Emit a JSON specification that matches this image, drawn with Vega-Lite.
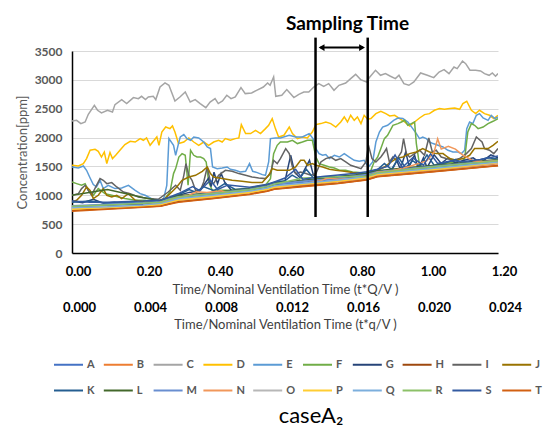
{
"$schema":"https://vega.github.io/schema/vega-lite/v6.json",
"width":426,"height":202,
"autosize":{"type":"none"},
"padding":{"left":72,"top":51,"right":51,"bottom":174},
"background":"white",
"config":{"view":{"stroke":null},"font":"Lato"},
"title":{"text":"caseA₂","orient":"bottom","anchor":"middle","frame":"group","dx":26,"offset":10,"font":"Lato","fontSize":22,"fontWeight":"normal","color":"#000000"},
"layer":[
{"layer":[
{"data":{"values":[
{"s":"A","x":0,"y":800},{"s":"A","x":0.1,"y":825},{"s":"A","x":0.2,"y":850},{"s":"A","x":0.25,"y":870},{"s":"A","x":0.27,"y":910},{"s":"A","x":0.3,"y":960},{"s":"A","x":0.4,"y":1020},{"s":"A","x":0.5,"y":1085},{"s":"A","x":0.55,"y":1140},{"s":"A","x":0.57,"y":1180},{"s":"A","x":0.65,"y":1225},{"s":"A","x":0.75,"y":1280},{"s":"A","x":0.83,"y":1340},{"s":"A","x":0.86,"y":1395},{"s":"A","x":0.95,"y":1445},{"s":"A","x":1.05,"y":1500},{"s":"A","x":1.2,"y":1590},
{"s":"B","x":0,"y":760},{"s":"B","x":0.1,"y":785},{"s":"B","x":0.2,"y":815},{"s":"B","x":0.25,"y":835},{"s":"B","x":0.27,"y":870},{"s":"B","x":0.3,"y":915},{"s":"B","x":0.4,"y":975},{"s":"B","x":0.5,"y":1045},{"s":"B","x":0.55,"y":1095},{"s":"B","x":0.57,"y":1135},{"s":"B","x":0.65,"y":1180},{"s":"B","x":0.75,"y":1235},{"s":"B","x":0.83,"y":1295},{"s":"B","x":0.86,"y":1350},{"s":"B","x":0.95,"y":1400},{"s":"B","x":1.05,"y":1455},{"s":"B","x":1.2,"y":1545},
{"s":"C","x":0,"y":2287},{"s":"C","x":0.013,"y":2299},{"s":"C","x":0.025,"y":2242},{"s":"C","x":0.037,"y":2270},{"s":"C","x":0.046,"y":2403},{"s":"C","x":0.063,"y":2559},{"s":"C","x":0.072,"y":2473},{"s":"C","x":0.083,"y":2426},{"s":"C","x":0.1,"y":2473},{"s":"C","x":0.114,"y":2443},{"s":"C","x":0.121,"y":2571},{"s":"C","x":0.14,"y":2658},{"s":"C","x":0.154,"y":2589},{"s":"C","x":0.173,"y":2693},{"s":"C","x":0.187,"y":2675},{"s":"C","x":0.196,"y":2715},{"s":"C","x":0.207,"y":2658},{"s":"C","x":0.215,"y":2703},{"s":"C","x":0.229,"y":2715},{"s":"C","x":0.236,"y":2658},{"s":"C","x":0.248,"y":2876},{"s":"C","x":0.262,"y":2946},{"s":"C","x":0.273,"y":2906},{"s":"C","x":0.29,"y":2634},{"s":"C","x":0.304,"y":2703},{"s":"C","x":0.319,"y":2790},{"s":"C","x":0.333,"y":2616},{"s":"C","x":0.347,"y":2658},{"s":"C","x":0.361,"y":2589},{"s":"C","x":0.377,"y":2519},{"s":"C","x":0.389,"y":2616},{"s":"C","x":0.403,"y":2675},{"s":"C","x":0.412,"y":2589},{"s":"C","x":0.424,"y":2634},{"s":"C","x":0.436,"y":2733},{"s":"C","x":0.448,"y":2675},{"s":"C","x":0.46,"y":2703},{"s":"C","x":0.476,"y":2866},{"s":"C","x":0.488,"y":2762},{"s":"C","x":0.506,"y":2772},{"s":"C","x":0.52,"y":2819},{"s":"C","x":0.539,"y":2876},{"s":"C","x":0.551,"y":2946},{"s":"C","x":0.558,"y":2906},{"s":"C","x":0.568,"y":3050},{"s":"C","x":0.574,"y":2715},{"s":"C","x":0.591,"y":2733},{"s":"C","x":0.605,"y":2831},{"s":"C","x":0.615,"y":2762},{"s":"C","x":0.625,"y":2693},{"s":"C","x":0.639,"y":2750},{"s":"C","x":0.653,"y":2790},{"s":"C","x":0.667,"y":2790},{"s":"C","x":0.681,"y":2876},{"s":"C","x":0.695,"y":2935},{"s":"C","x":0.709,"y":2888},{"s":"C","x":0.723,"y":2935},{"s":"C","x":0.738,"y":2819},{"s":"C","x":0.752,"y":2906},{"s":"C","x":0.771,"y":2946},{"s":"C","x":0.785,"y":3022},{"s":"C","x":0.799,"y":3096},{"s":"C","x":0.813,"y":3004},{"s":"C","x":0.83,"y":2963},{"s":"C","x":0.839,"y":3050},{"s":"C","x":0.855,"y":3166},{"s":"C","x":0.869,"y":3079},{"s":"C","x":0.883,"y":3108},{"s":"C","x":0.897,"y":3062},{"s":"C","x":0.911,"y":3022},{"s":"C","x":0.921,"y":3079},{"s":"C","x":0.935,"y":2935},{"s":"C","x":0.949,"y":2906},{"s":"C","x":0.963,"y":2963},{"s":"C","x":0.982,"y":3119},{"s":"C","x":1.001,"y":3079},{"s":"C","x":1.019,"y":3039},{"s":"C","x":1.034,"y":3136},{"s":"C","x":1.048,"y":3178},{"s":"C","x":1.062,"y":3108},{"s":"C","x":1.076,"y":3223},{"s":"C","x":1.085,"y":3195},{"s":"C","x":1.1,"y":3327},{"s":"C","x":1.109,"y":3281},{"s":"C","x":1.121,"y":3166},{"s":"C","x":1.137,"y":3166},{"s":"C","x":1.151,"y":3154},{"s":"C","x":1.162,"y":3108},{"s":"C","x":1.175,"y":3079},{"s":"C","x":1.184,"y":3119},{"s":"C","x":1.193,"y":3062},{"s":"C","x":1.2,"y":3108},
{"s":"D","x":0,"y":1520},{"s":"D","x":0.018,"y":1507},{"s":"D","x":0.032,"y":1549},{"s":"D","x":0.041,"y":1636},{"s":"D","x":0.051,"y":1780},{"s":"D","x":0.065,"y":1797},{"s":"D","x":0.074,"y":1762},{"s":"D","x":0.083,"y":1663},{"s":"D","x":0.091,"y":1750},{"s":"D","x":0.098,"y":1549},{"s":"D","x":0.107,"y":1740},{"s":"D","x":0.114,"y":1636},{"s":"D","x":0.123,"y":1693},{"s":"D","x":0.135,"y":1780},{"s":"D","x":0.149,"y":1878},{"s":"D","x":0.164,"y":1935},{"s":"D","x":0.178,"y":1923},{"s":"D","x":0.192,"y":1982},{"s":"D","x":0.201,"y":1953},{"s":"D","x":0.21,"y":1993},{"s":"D","x":0.22,"y":1866},{"s":"D","x":0.229,"y":1935},{"s":"D","x":0.239,"y":2010},{"s":"D","x":0.245,"y":1866},{"s":"D","x":0.253,"y":2097},{"s":"D","x":0.264,"y":2183},{"s":"D","x":0.276,"y":2155},{"s":"D","x":0.283,"y":2201},{"s":"D","x":0.29,"y":2097},{"s":"D","x":0.3,"y":1896},{"s":"D","x":0.315,"y":1923},{"s":"D","x":0.329,"y":1993},{"s":"D","x":0.343,"y":1923},{"s":"D","x":0.357,"y":1866},{"s":"D","x":0.371,"y":1923},{"s":"D","x":0.385,"y":1866},{"s":"D","x":0.399,"y":1923},{"s":"D","x":0.413,"y":1953},{"s":"D","x":0.423,"y":1923},{"s":"D","x":0.432,"y":1982},{"s":"D","x":0.446,"y":1953},{"s":"D","x":0.46,"y":1982},{"s":"D","x":0.47,"y":1993},{"s":"D","x":0.477,"y":2225},{"s":"D","x":0.489,"y":2069},{"s":"D","x":0.503,"y":2069},{"s":"D","x":0.517,"y":2126},{"s":"D","x":0.531,"y":2069},{"s":"D","x":0.545,"y":2155},{"s":"D","x":0.554,"y":2213},{"s":"D","x":0.564,"y":2329},{"s":"D","x":0.573,"y":2155},{"s":"D","x":0.582,"y":2010},{"s":"D","x":0.597,"y":2040},{"s":"D","x":0.612,"y":2183},{"s":"D","x":0.621,"y":2069},{"s":"D","x":0.635,"y":1982},{"s":"D","x":0.649,"y":2010},{"s":"D","x":0.663,"y":1993},{"s":"D","x":0.677,"y":2097},{"s":"D","x":0.687,"y":2225},{"s":"D","x":0.701,"y":2242},{"s":"D","x":0.715,"y":2270},{"s":"D","x":0.729,"y":2242},{"s":"D","x":0.743,"y":2183},{"s":"D","x":0.757,"y":2270},{"s":"D","x":0.767,"y":2357},{"s":"D","x":0.776,"y":2270},{"s":"D","x":0.785,"y":2386},{"s":"D","x":0.795,"y":2299},{"s":"D","x":0.804,"y":2357},{"s":"D","x":0.814,"y":2242},{"s":"D","x":0.823,"y":2386},{"s":"D","x":0.833,"y":2317},{"s":"D","x":0.842,"y":2329},{"s":"D","x":0.856,"y":2415},{"s":"D","x":0.87,"y":2455},{"s":"D","x":0.884,"y":2415},{"s":"D","x":0.895,"y":2374},{"s":"D","x":0.909,"y":2386},{"s":"D","x":0.923,"y":2329},{"s":"D","x":0.937,"y":2270},{"s":"D","x":0.951,"y":2201},{"s":"D","x":0.965,"y":2270},{"s":"D","x":0.979,"y":2339},{"s":"D","x":0.993,"y":2398},{"s":"D","x":1.007,"y":2415},{"s":"D","x":1.021,"y":2473},{"s":"D","x":1.035,"y":2502},{"s":"D","x":1.049,"y":2490},{"s":"D","x":1.064,"y":2502},{"s":"D","x":1.078,"y":2513},{"s":"D","x":1.092,"y":2490},{"s":"D","x":1.101,"y":2589},{"s":"D","x":1.112,"y":2629},{"s":"D","x":1.125,"y":2473},{"s":"D","x":1.137,"y":2415},{"s":"D","x":1.148,"y":2473},{"s":"D","x":1.162,"y":2415},{"s":"D","x":1.176,"y":2386},{"s":"D","x":1.188,"y":2329},{"s":"D","x":1.2,"y":2386},
{"s":"E","x":0,"y":1490},{"s":"E","x":0.018,"y":1473},{"s":"E","x":0.032,"y":1507},{"s":"E","x":0.041,"y":1433},{"s":"E","x":0.051,"y":1300},{"s":"E","x":0.06,"y":1185},{"s":"E","x":0.069,"y":1144},{"s":"E","x":0.079,"y":1260},{"s":"E","x":0.088,"y":1116},{"s":"E","x":0.102,"y":1173},{"s":"E","x":0.121,"y":1116},{"s":"E","x":0.14,"y":1126},{"s":"E","x":0.159,"y":1173},{"s":"E","x":0.178,"y":1086},{"s":"E","x":0.192,"y":1029},{"s":"E","x":0.206,"y":1000},{"s":"E","x":0.224,"y":943},{"s":"E","x":0.243,"y":896},{"s":"E","x":0.257,"y":913},{"s":"E","x":0.267,"y":1173},{"s":"E","x":0.273,"y":1982},{"s":"E","x":0.286,"y":1866},{"s":"E","x":0.292,"y":1693},{"s":"E","x":0.3,"y":1896},{"s":"E","x":0.305,"y":2010},{"s":"E","x":0.315,"y":2051},{"s":"E","x":0.324,"y":1982},{"s":"E","x":0.334,"y":1953},{"s":"E","x":0.343,"y":2010},{"s":"E","x":0.357,"y":1993},{"s":"E","x":0.371,"y":1923},{"s":"E","x":0.381,"y":1837},{"s":"E","x":0.39,"y":1809},{"s":"E","x":0.396,"y":1490},{"s":"E","x":0.409,"y":1462},{"s":"E","x":0.423,"y":1473},{"s":"E","x":0.437,"y":1490},{"s":"E","x":0.446,"y":1450},{"s":"E","x":0.46,"y":1433},{"s":"E","x":0.474,"y":1403},{"s":"E","x":0.489,"y":1416},{"s":"E","x":0.5,"y":1549},{"s":"E","x":0.509,"y":1416},{"s":"E","x":0.522,"y":1393},{"s":"E","x":0.536,"y":1358},{"s":"E","x":0.545,"y":1346},{"s":"E","x":0.554,"y":1577},{"s":"E","x":0.559,"y":1982},{"s":"E","x":0.573,"y":1993},{"s":"E","x":0.587,"y":1993},{"s":"E","x":0.612,"y":2040},{"s":"E","x":0.63,"y":2010},{"s":"E","x":0.649,"y":2010},{"s":"E","x":0.668,"y":2069},{"s":"E","x":0.679,"y":1982},{"s":"E","x":0.687,"y":1809},{"s":"E","x":0.696,"y":1722},{"s":"E","x":0.706,"y":1693},{"s":"E","x":0.715,"y":1705},{"s":"E","x":0.725,"y":1636},{"s":"E","x":0.739,"y":1693},{"s":"E","x":0.753,"y":1663},{"s":"E","x":0.767,"y":1722},{"s":"E","x":0.781,"y":1663},{"s":"E","x":0.795,"y":1606},{"s":"E","x":0.809,"y":1589},{"s":"E","x":0.823,"y":1606},{"s":"E","x":0.835,"y":1490},{"s":"E","x":0.847,"y":1577},{"s":"E","x":0.856,"y":1923},{"s":"E","x":0.866,"y":2097},{"s":"E","x":0.875,"y":2183},{"s":"E","x":0.889,"y":2213},{"s":"E","x":0.906,"y":2299},{"s":"E","x":0.918,"y":2339},{"s":"E","x":0.932,"y":2329},{"s":"E","x":0.946,"y":2270},{"s":"E","x":0.96,"y":2155},{"s":"E","x":0.97,"y":2069},{"s":"E","x":0.979,"y":1982},{"s":"E","x":0.988,"y":2010},{"s":"E","x":0.998,"y":1982},{"s":"E","x":1.007,"y":1923},{"s":"E","x":1.017,"y":1896},{"s":"E","x":1.031,"y":1866},{"s":"E","x":1.045,"y":1837},{"s":"E","x":1.059,"y":1780},{"s":"E","x":1.073,"y":1750},{"s":"E","x":1.087,"y":1750},{"s":"E","x":1.097,"y":1722},{"s":"E","x":1.106,"y":1780},{"s":"E","x":1.112,"y":2155},{"s":"E","x":1.12,"y":2270},{"s":"E","x":1.129,"y":2242},{"s":"E","x":1.139,"y":2386},{"s":"E","x":1.148,"y":2415},{"s":"E","x":1.158,"y":2339},{"s":"E","x":1.172,"y":2299},{"s":"E","x":1.181,"y":2386},{"s":"E","x":1.191,"y":2329},{"s":"E","x":1.2,"y":2357},
{"s":"F","x":0,"y":1230},{"s":"F","x":0.013,"y":1202},{"s":"F","x":0.027,"y":1173},{"s":"F","x":0.037,"y":1202},{"s":"F","x":0.046,"y":1086},{"s":"F","x":0.06,"y":1000},{"s":"F","x":0.074,"y":1116},{"s":"F","x":0.093,"y":1029},{"s":"F","x":0.112,"y":1000},{"s":"F","x":0.131,"y":970},{"s":"F","x":0.149,"y":943},{"s":"F","x":0.178,"y":913},{"s":"F","x":0.206,"y":913},{"s":"F","x":0.234,"y":884},{"s":"F","x":0.262,"y":943},{"s":"F","x":0.276,"y":1057},{"s":"F","x":0.286,"y":1376},{"s":"F","x":0.292,"y":1462},{"s":"F","x":0.301,"y":1663},{"s":"F","x":0.31,"y":1722},{"s":"F","x":0.319,"y":1693},{"s":"F","x":0.327,"y":1173},{"s":"F","x":0.334,"y":1780},{"s":"F","x":0.343,"y":1693},{"s":"F","x":0.352,"y":1663},{"s":"F","x":0.362,"y":1663},{"s":"F","x":0.371,"y":1636},{"s":"F","x":0.378,"y":1577},{"s":"F","x":0.385,"y":1230},{"s":"F","x":0.395,"y":1086},{"s":"F","x":0.413,"y":1086},{"s":"F","x":0.442,"y":1086},{"s":"F","x":0.47,"y":1104},{"s":"F","x":0.498,"y":1116},{"s":"F","x":0.526,"y":1161},{"s":"F","x":0.545,"y":1173},{"s":"F","x":0.559,"y":1289},{"s":"F","x":0.568,"y":1722},{"s":"F","x":0.578,"y":1866},{"s":"F","x":0.587,"y":1923},{"s":"F","x":0.607,"y":1923},{"s":"F","x":0.621,"y":1953},{"s":"F","x":0.635,"y":1896},{"s":"F","x":0.649,"y":1923},{"s":"F","x":0.663,"y":1953},{"s":"F","x":0.677,"y":1953},{"s":"F","x":0.687,"y":1663},{"s":"F","x":0.696,"y":1549},{"s":"F","x":0.71,"y":1520},{"s":"F","x":0.725,"y":1490},{"s":"F","x":0.739,"y":1473},{"s":"F","x":0.753,"y":1433},{"s":"F","x":0.771,"y":1433},{"s":"F","x":0.79,"y":1403},{"s":"F","x":0.809,"y":1393},{"s":"F","x":0.828,"y":1376},{"s":"F","x":0.842,"y":1433},{"s":"F","x":0.851,"y":1577},{"s":"F","x":0.861,"y":1663},{"s":"F","x":0.87,"y":1809},{"s":"F","x":0.88,"y":1982},{"s":"F","x":0.889,"y":2040},{"s":"F","x":0.904,"y":2213},{"s":"F","x":0.918,"y":2242},{"s":"F","x":0.928,"y":2270},{"s":"F","x":0.937,"y":2299},{"s":"F","x":0.946,"y":2213},{"s":"F","x":0.956,"y":2242},{"s":"F","x":0.965,"y":2270},{"s":"F","x":0.97,"y":1896},{"s":"F","x":0.979,"y":1520},{"s":"F","x":0.988,"y":1490},{"s":"F","x":1.017,"y":1490},{"s":"F","x":1.031,"y":1549},{"s":"F","x":1.05,"y":1549},{"s":"F","x":1.069,"y":1577},{"s":"F","x":1.092,"y":1549},{"s":"F","x":1.106,"y":1636},{"s":"F","x":1.115,"y":2097},{"s":"F","x":1.125,"y":2242},{"s":"F","x":1.134,"y":2213},{"s":"F","x":1.144,"y":2155},{"s":"F","x":1.158,"y":2183},{"s":"F","x":1.172,"y":2242},{"s":"F","x":1.186,"y":2282},{"s":"F","x":1.2,"y":2329},
{"s":"G","x":0,"y":900},{"s":"G","x":0.03,"y":870},{"s":"G","x":0.06,"y":930},{"s":"G","x":0.09,"y":860},{"s":"G","x":0.12,"y":880},{"s":"G","x":0.15,"y":850},{"s":"G","x":0.2,"y":850},{"s":"G","x":0.25,"y":870},{"s":"G","x":0.27,"y":950},{"s":"G","x":0.3,"y":1000},{"s":"G","x":0.33,"y":1050},{"s":"G","x":0.36,"y":1080},{"s":"G","x":0.385,"y":1300},{"s":"G","x":0.392,"y":1150},{"s":"G","x":0.4,"y":1400},{"s":"G","x":0.41,"y":1200},{"s":"G","x":0.42,"y":1380},{"s":"G","x":0.43,"y":1230},{"s":"G","x":0.45,"y":1080},{"s":"G","x":0.5,"y":1100},{"s":"G","x":0.55,"y":1150},{"s":"G","x":0.58,"y":1200},{"s":"G","x":0.6,"y":1250},{"s":"G","x":0.616,"y":1693},{"s":"G","x":0.627,"y":1400},{"s":"G","x":0.643,"y":1300},{"s":"G","x":0.669,"y":1606},{"s":"G","x":0.68,"y":1350},{"s":"G","x":0.697,"y":1280},{"s":"G","x":0.72,"y":1290},{"s":"G","x":0.75,"y":1300},{"s":"G","x":0.8,"y":1320},{"s":"G","x":0.83,"y":1330},{"s":"G","x":0.86,"y":1390},{"s":"G","x":0.9,"y":1420},{"s":"G","x":0.915,"y":1600},{"s":"G","x":0.925,"y":1450},{"s":"G","x":0.94,"y":1750},{"s":"G","x":0.95,"y":1500},{"s":"G","x":0.965,"y":1700},{"s":"G","x":0.975,"y":1450},{"s":"G","x":0.99,"y":1650},{"s":"G","x":1.0,"y":1480},{"s":"G","x":1.02,"y":1700},{"s":"G","x":1.04,"y":1550},{"s":"G","x":1.06,"y":1650},{"s":"G","x":1.08,"y":1560},{"s":"G","x":1.1,"y":1600},{"s":"G","x":1.13,"y":1650},{"s":"G","x":1.15,"y":1560},{"s":"G","x":1.18,"y":1700},{"s":"G","x":1.2,"y":1650},
{"s":"H","x":0,"y":735},{"s":"H","x":0.1,"y":765},{"s":"H","x":0.2,"y":795},{"s":"H","x":0.25,"y":815},{"s":"H","x":0.27,"y":845},{"s":"H","x":0.3,"y":890},{"s":"H","x":0.4,"y":950},{"s":"H","x":0.5,"y":1020},{"s":"H","x":0.55,"y":1075},{"s":"H","x":0.57,"y":1110},{"s":"H","x":0.65,"y":1155},{"s":"H","x":0.75,"y":1210},{"s":"H","x":0.83,"y":1270},{"s":"H","x":0.86,"y":1325},{"s":"H","x":0.95,"y":1375},{"s":"H","x":1.05,"y":1430},{"s":"H","x":1.2,"y":1515},
{"s":"I","x":0,"y":1000},{"s":"I","x":0.018,"y":1029},{"s":"I","x":0.027,"y":1116},{"s":"I","x":0.037,"y":1173},{"s":"I","x":0.046,"y":1086},{"s":"I","x":0.055,"y":1000},{"s":"I","x":0.069,"y":1173},{"s":"I","x":0.079,"y":1289},{"s":"I","x":0.088,"y":1260},{"s":"I","x":0.098,"y":1202},{"s":"I","x":0.112,"y":1220},{"s":"I","x":0.126,"y":1144},{"s":"I","x":0.145,"y":1057},{"s":"I","x":0.164,"y":1029},{"s":"I","x":0.187,"y":970},{"s":"I","x":0.215,"y":943},{"s":"I","x":0.243,"y":930},{"s":"I","x":0.271,"y":1057},{"s":"I","x":0.292,"y":1173},{"s":"I","x":0.305,"y":1086},{"s":"I","x":0.315,"y":1346},{"s":"I","x":0.321,"y":1549},{"s":"I","x":0.329,"y":1346},{"s":"I","x":0.338,"y":1260},{"s":"I","x":0.348,"y":1086},{"s":"I","x":0.362,"y":1086},{"s":"I","x":0.371,"y":1230},{"s":"I","x":0.381,"y":1490},{"s":"I","x":0.39,"y":1230},{"s":"I","x":0.399,"y":1202},{"s":"I","x":0.413,"y":1346},{"s":"I","x":0.432,"y":1433},{"s":"I","x":0.451,"y":1416},{"s":"I","x":0.47,"y":1376},{"s":"I","x":0.489,"y":1346},{"s":"I","x":0.507,"y":1317},{"s":"I","x":0.526,"y":1300},{"s":"I","x":0.545,"y":1289},{"s":"I","x":0.559,"y":1376},{"s":"I","x":0.568,"y":1606},{"s":"I","x":0.578,"y":1549},{"s":"I","x":0.587,"y":1636},{"s":"I","x":0.602,"y":1809},{"s":"I","x":0.612,"y":1722},{"s":"I","x":0.621,"y":1490},{"s":"I","x":0.63,"y":1376},{"s":"I","x":0.644,"y":1403},{"s":"I","x":0.659,"y":1376},{"s":"I","x":0.673,"y":1346},{"s":"I","x":0.687,"y":1376},{"s":"I","x":0.701,"y":1577},{"s":"I","x":0.715,"y":1636},{"s":"I","x":0.729,"y":1663},{"s":"I","x":0.743,"y":1606},{"s":"I","x":0.757,"y":1636},{"s":"I","x":0.771,"y":1577},{"s":"I","x":0.785,"y":1520},{"s":"I","x":0.8,"y":1490},{"s":"I","x":0.814,"y":1462},{"s":"I","x":0.828,"y":1577},{"s":"I","x":0.835,"y":1866},{"s":"I","x":0.845,"y":1636},{"s":"I","x":0.856,"y":1577},{"s":"I","x":0.87,"y":1663},{"s":"I","x":0.88,"y":1750},{"s":"I","x":0.886,"y":1809},{"s":"I","x":0.894,"y":1577},{"s":"I","x":0.904,"y":1663},{"s":"I","x":0.913,"y":1606},{"s":"I","x":0.928,"y":1750},{"s":"I","x":0.934,"y":1982},{"s":"I","x":0.942,"y":1722},{"s":"I","x":0.951,"y":1663},{"s":"I","x":0.965,"y":1722},{"s":"I","x":0.979,"y":1780},{"s":"I","x":0.993,"y":1693},{"s":"I","x":1.005,"y":1993},{"s":"I","x":1.015,"y":1750},{"s":"I","x":1.026,"y":1780},{"s":"I","x":1.04,"y":1663},{"s":"I","x":1.054,"y":1636},{"s":"I","x":1.073,"y":1606},{"s":"I","x":1.092,"y":1636},{"s":"I","x":1.111,"y":1722},{"s":"I","x":1.125,"y":1809},{"s":"I","x":1.139,"y":2010},{"s":"I","x":1.155,"y":1923},{"s":"I","x":1.162,"y":1809},{"s":"I","x":1.176,"y":1780},{"s":"I","x":1.188,"y":1722},{"s":"I","x":1.2,"y":1809},
{"s":"J","x":0,"y":884},{"s":"J","x":0.013,"y":913},{"s":"J","x":0.027,"y":1000},{"s":"J","x":0.041,"y":1144},{"s":"J","x":0.051,"y":1086},{"s":"J","x":0.06,"y":943},{"s":"J","x":0.074,"y":1000},{"s":"J","x":0.088,"y":1116},{"s":"J","x":0.098,"y":1000},{"s":"J","x":0.112,"y":970},{"s":"J","x":0.126,"y":1000},{"s":"J","x":0.14,"y":943},{"s":"J","x":0.159,"y":1029},{"s":"J","x":0.178,"y":913},{"s":"J","x":0.206,"y":884},{"s":"J","x":0.234,"y":884},{"s":"J","x":0.262,"y":943},{"s":"J","x":0.281,"y":1057},{"s":"J","x":0.295,"y":1144},{"s":"J","x":0.31,"y":1260},{"s":"J","x":0.329,"y":1317},{"s":"J","x":0.348,"y":1346},{"s":"J","x":0.367,"y":1416},{"s":"J","x":0.381,"y":1490},{"s":"J","x":0.39,"y":1376},{"s":"J","x":0.399,"y":1317},{"s":"J","x":0.423,"y":1289},{"s":"J","x":0.451,"y":1260},{"s":"J","x":0.479,"y":1243},{"s":"J","x":0.507,"y":1220},{"s":"J","x":0.536,"y":1220},{"s":"J","x":0.554,"y":1346},{"s":"J","x":0.564,"y":1462},{"s":"J","x":0.578,"y":1433},{"s":"J","x":0.612,"y":1433},{"s":"J","x":0.63,"y":1490},{"s":"J","x":0.644,"y":1606},{"s":"J","x":0.654,"y":1606},{"s":"J","x":0.663,"y":1520},{"s":"J","x":0.677,"y":1549},{"s":"J","x":0.687,"y":1520},{"s":"J","x":0.706,"y":1490},{"s":"J","x":0.725,"y":1450},{"s":"J","x":0.743,"y":1433},{"s":"J","x":0.767,"y":1416},{"s":"J","x":0.79,"y":1393},{"s":"J","x":0.814,"y":1376},{"s":"J","x":0.833,"y":1346},{"s":"J","x":0.847,"y":1403},{"s":"J","x":0.861,"y":1433},{"s":"J","x":0.88,"y":1490},{"s":"J","x":0.895,"y":1560},{"s":"J","x":0.913,"y":1636},{"s":"J","x":0.932,"y":1663},{"s":"J","x":0.951,"y":1722},{"s":"J","x":0.97,"y":1750},{"s":"J","x":0.988,"y":1809},{"s":"J","x":1.007,"y":1750},{"s":"J","x":1.026,"y":1722},{"s":"J","x":1.045,"y":1722},{"s":"J","x":1.064,"y":1636},{"s":"J","x":1.083,"y":1606},{"s":"J","x":1.101,"y":1636},{"s":"J","x":1.12,"y":1693},{"s":"J","x":1.134,"y":1809},{"s":"J","x":1.153,"y":1809},{"s":"J","x":1.172,"y":1809},{"s":"J","x":1.186,"y":1866},{"s":"J","x":1.2,"y":1935},
{"s":"K","x":0,"y":880},{"s":"K","x":0.05,"y":900},{"s":"K","x":0.1,"y":860},{"s":"K","x":0.15,"y":870},{"s":"K","x":0.2,"y":870},{"s":"K","x":0.25,"y":900},{"s":"K","x":0.27,"y":950},{"s":"K","x":0.3,"y":1010},{"s":"K","x":0.33,"y":1100},{"s":"K","x":0.35,"y":1050},{"s":"K","x":0.37,"y":1150},{"s":"K","x":0.4,"y":1080},{"s":"K","x":0.43,"y":1200},{"s":"K","x":0.46,"y":1100},{"s":"K","x":0.5,"y":1120},{"s":"K","x":0.55,"y":1180},{"s":"K","x":0.57,"y":1225},{"s":"K","x":0.6,"y":1250},{"s":"K","x":0.62,"y":1350},{"s":"K","x":0.64,"y":1280},{"s":"K","x":0.66,"y":1450},{"s":"K","x":0.68,"y":1300},{"s":"K","x":0.7,"y":1320},{"s":"K","x":0.75,"y":1330},{"s":"K","x":0.8,"y":1350},{"s":"K","x":0.83,"y":1390},{"s":"K","x":0.86,"y":1440},{"s":"K","x":0.88,"y":1550},{"s":"K","x":0.9,"y":1450},{"s":"K","x":0.92,"y":1650},{"s":"K","x":0.94,"y":1480},{"s":"K","x":0.96,"y":1600},{"s":"K","x":0.98,"y":1500},{"s":"K","x":1.0,"y":1700},{"s":"K","x":1.02,"y":1520},{"s":"K","x":1.05,"y":1560},{"s":"K","x":1.08,"y":1620},{"s":"K","x":1.1,"y":1560},{"s":"K","x":1.14,"y":1600},{"s":"K","x":1.17,"y":1650},{"s":"K","x":1.2,"y":1630},
{"s":"L","x":0,"y":1000},{"s":"L","x":0.1,"y":1100},{"s":"L","x":0.2,"y":960},{"s":"L","x":0.25,"y":900},{"s":"L","x":0.27,"y":935},{"s":"L","x":0.3,"y":990},{"s":"L","x":0.4,"y":1050},{"s":"L","x":0.5,"y":1115},{"s":"L","x":0.55,"y":1170},{"s":"L","x":0.57,"y":1210},{"s":"L","x":0.65,"y":1260},{"s":"L","x":0.75,"y":1315},{"s":"L","x":0.83,"y":1375},{"s":"L","x":0.86,"y":1425},{"s":"L","x":0.95,"y":1480},{"s":"L","x":1.05,"y":1535},{"s":"L","x":1.2,"y":1620},
{"s":"M","x":0,"y":820},{"s":"M","x":0.1,"y":845},{"s":"M","x":0.2,"y":870},{"s":"M","x":0.25,"y":890},{"s":"M","x":0.27,"y":930},{"s":"M","x":0.3,"y":975},{"s":"M","x":0.4,"y":1040},{"s":"M","x":0.5,"y":1105},{"s":"M","x":0.55,"y":1160},{"s":"M","x":0.57,"y":1200},{"s":"M","x":0.65,"y":1245},{"s":"M","x":0.75,"y":1300},{"s":"M","x":0.83,"y":1360},{"s":"M","x":0.86,"y":1410},{"s":"M","x":0.95,"y":1465},{"s":"M","x":1.05,"y":1520},{"s":"M","x":1.2,"y":1605},
{"s":"N","x":0,"y":780},{"s":"N","x":0.1,"y":790},{"s":"N","x":0.2,"y":820},{"s":"N","x":0.27,"y":900},{"s":"N","x":0.3,"y":960},{"s":"N","x":0.33,"y":1000},{"s":"N","x":0.35,"y":1060},{"s":"N","x":0.38,"y":1050},{"s":"N","x":0.42,"y":1080},{"s":"N","x":0.45,"y":1020},{"s":"N","x":0.5,"y":1050},{"s":"N","x":0.55,"y":1120},{"s":"N","x":0.6,"y":1150},{"s":"N","x":0.65,"y":1200},{"s":"N","x":0.7,"y":1250},{"s":"N","x":0.72,"y":1300},{"s":"N","x":0.75,"y":1280},{"s":"N","x":0.8,"y":1300},{"s":"N","x":0.83,"y":1320},{"s":"N","x":0.86,"y":1400},{"s":"N","x":0.9,"y":1420},{"s":"N","x":0.95,"y":1500},{"s":"N","x":1.0,"y":1600},{"s":"N","x":1.02,"y":1750},{"s":"N","x":1.03,"y":1980},{"s":"N","x":1.04,"y":1800},{"s":"N","x":1.06,"y":1850},{"s":"N","x":1.08,"y":1800},{"s":"N","x":1.1,"y":1700},{"s":"N","x":1.13,"y":1600},{"s":"N","x":1.16,"y":1580},{"s":"N","x":1.2,"y":1600},
{"s":"O","x":0,"y":770},{"s":"O","x":0.1,"y":790},{"s":"O","x":0.2,"y":820},{"s":"O","x":0.25,"y":845},{"s":"O","x":0.27,"y":880},{"s":"O","x":0.3,"y":925},{"s":"O","x":0.4,"y":985},{"s":"O","x":0.5,"y":1055},{"s":"O","x":0.55,"y":1110},{"s":"O","x":0.57,"y":1150},{"s":"O","x":0.65,"y":1195},{"s":"O","x":0.75,"y":1250},{"s":"O","x":0.83,"y":1310},{"s":"O","x":0.86,"y":1365},{"s":"O","x":0.95,"y":1415},{"s":"O","x":1.05,"y":1470},{"s":"O","x":1.2,"y":1560},
{"s":"P","x":0,"y":760},{"s":"P","x":0.1,"y":790},{"s":"P","x":0.2,"y":815},{"s":"P","x":0.25,"y":840},{"s":"P","x":0.27,"y":875},{"s":"P","x":0.3,"y":920},{"s":"P","x":0.4,"y":980},{"s":"P","x":0.5,"y":1050},{"s":"P","x":0.55,"y":1100},{"s":"P","x":0.57,"y":1140},{"s":"P","x":0.65,"y":1190},{"s":"P","x":0.75,"y":1245},{"s":"P","x":0.83,"y":1305},{"s":"P","x":0.86,"y":1360},{"s":"P","x":0.95,"y":1410},{"s":"P","x":1.05,"y":1465},{"s":"P","x":1.2,"y":1570},
{"s":"Q","x":0,"y":790},{"s":"Q","x":0.1,"y":800},{"s":"Q","x":0.2,"y":830},{"s":"Q","x":0.25,"y":860},{"s":"Q","x":0.27,"y":890},{"s":"Q","x":0.3,"y":945},{"s":"Q","x":0.4,"y":1005},{"s":"Q","x":0.5,"y":1075},{"s":"Q","x":0.55,"y":1125},{"s":"Q","x":0.57,"y":1165},{"s":"Q","x":0.65,"y":1210},{"s":"Q","x":0.75,"y":1265},{"s":"Q","x":0.83,"y":1325},{"s":"Q","x":0.86,"y":1380},{"s":"Q","x":0.95,"y":1430},{"s":"Q","x":1.05,"y":1485},{"s":"Q","x":1.2,"y":1575},
{"s":"R","x":0,"y":810},{"s":"R","x":0.1,"y":830},{"s":"R","x":0.2,"y":860},{"s":"R","x":0.25,"y":880},{"s":"R","x":0.27,"y":920},{"s":"R","x":0.3,"y":970},{"s":"R","x":0.4,"y":1030},{"s":"R","x":0.5,"y":1095},{"s":"R","x":0.55,"y":1150},{"s":"R","x":0.57,"y":1190},{"s":"R","x":0.65,"y":1300},{"s":"R","x":0.75,"y":1320},{"s":"R","x":0.83,"y":1330},{"s":"R","x":0.86,"y":1390},{"s":"R","x":0.95,"y":1450},{"s":"R","x":1.05,"y":1510},{"s":"R","x":1.2,"y":1600},
{"s":"S","x":0,"y":900},{"s":"S","x":0.05,"y":880},{"s":"S","x":0.1,"y":880},{"s":"S","x":0.2,"y":900},{"s":"S","x":0.25,"y":920},{"s":"S","x":0.27,"y":960},{"s":"S","x":0.3,"y":1030},{"s":"S","x":0.34,"y":1150},{"s":"S","x":0.36,"y":1080},{"s":"S","x":0.39,"y":1260},{"s":"S","x":0.41,"y":1100},{"s":"S","x":0.44,"y":1180},{"s":"S","x":0.5,"y":1140},{"s":"S","x":0.55,"y":1190},{"s":"S","x":0.57,"y":1230},{"s":"S","x":0.6,"y":1300},{"s":"S","x":0.63,"y":1450},{"s":"S","x":0.65,"y":1280},{"s":"S","x":0.7,"y":1320},{"s":"S","x":0.75,"y":1350},{"s":"S","x":0.8,"y":1380},{"s":"S","x":0.83,"y":1410},{"s":"S","x":0.86,"y":1450},{"s":"S","x":0.89,"y":1500},{"s":"S","x":0.91,"y":1700},{"s":"S","x":0.93,"y":1480},{"s":"S","x":0.96,"y":1650},{"s":"S","x":0.99,"y":1520},{"s":"S","x":1.01,"y":1720},{"s":"S","x":1.03,"y":1550},{"s":"S","x":1.07,"y":1600},{"s":"S","x":1.1,"y":1580},{"s":"S","x":1.15,"y":1620},{"s":"S","x":1.2,"y":1680},
{"s":"T","x":0,"y":725},{"s":"T","x":0.1,"y":760},{"s":"T","x":0.2,"y":792},{"s":"T","x":0.25,"y":810},{"s":"T","x":0.27,"y":840},{"s":"T","x":0.3,"y":880},{"s":"T","x":0.4,"y":945},{"s":"T","x":0.5,"y":1015},{"s":"T","x":0.55,"y":1070},{"s":"T","x":0.57,"y":1105},{"s":"T","x":0.65,"y":1150},{"s":"T","x":0.75,"y":1205},{"s":"T","x":0.83,"y":1265},{"s":"T","x":0.86,"y":1320},{"s":"T","x":0.95,"y":1370},{"s":"T","x":1.05,"y":1425},{"s":"T","x":1.2,"y":1510}
]},
"mark":{"type":"line","strokeWidth":1.5,"clip":true},
"encoding":{
"x":{"field":"x","type":"quantitative","scale":{"domain":[0,1.2],"nice":false,"zero":false},
"axis":{"values":[0,0.2,0.4,0.6,0.8,1.0,1.2],"format":".2f","ticks":false,"grid":false,"labelOverlap":false,"labelFlush":false,"domainColor":"#000000","domainWidth":1.5,"labelFont":"Lato","labelFontSize":13,"labelFontWeight":"bold","labelColor":"#000000","labelPadding":12,"labelOffset":6,"title":"Time/Nominal Ventilation Time (t*Q/V )","titleFont":"Lato","titleFontSize":13,"titleFontWeight":"normal","titleColor":"#404040","titlePadding":5}},
"y":{"field":"y","type":"quantitative","scale":{"domain":[0,3500],"nice":false},
"axis":{"values":[0,500,1000,1500,2000,2500,3000,3500],"tickCount":8,"format":"d","labelOverlap":false,"labelFlush":false,"ticks":false,"grid":true,"gridColor":"#D9D9D9","gridWidth":1,"domainColor":"#000000","domainWidth":1.5,"labelFont":"Lato","labelFontSize":12,"labelFontWeight":"bold","labelColor":"#595959","labelPadding":10,"title":"Concentration[ppm]","titleFont":"Lato","titleFontSize":13,"titleFontWeight":"normal","titleColor":"#595959","titlePadding":5}},
"color":{"field":"s","type":"nominal","scale":{"domain":["A","B","C","D","E","F","G","H","I","J","K","L","M","N","O","P","Q","R","S","T"],"range":["#4472C4","#ED7D31","#A5A5A5","#FFC000","#5B9BD5","#70AD47","#264478","#9E480E","#636363","#997300","#255E91","#43682B","#698ED0","#F1975A","#B7B7B7","#FFCD33","#7CAFDD","#8CC168","#335AA1","#D26012"]},
"legend":{"orient":"none","legendX":-19,"legendY":298,"direction":"horizontal","columns":10,"title":null,"symbolType":"stroke","symbolSize":841,"symbolStrokeWidth":2,"labelFont":"Lato","labelFontSize":11,"labelFontWeight":"bold","labelColor":"#595959","labelOffset":3,"columnPadding":1.8,"rowPadding":5,"gridAlign":"all"}}
}
},
{"data":{"values":[{"x":0.686,"y":624,"y2":3732},{"x":0.833,"y":624,"y2":3732}]},
"mark":{"type":"rule","color":"#000000","strokeWidth":2.5},
"encoding":{"x":{"field":"x","type":"quantitative"},"y":{"field":"y","type":"quantitative"},"y2":{"field":"y2"}}},
{"data":{"values":[{"x":0.7,"x2":0.82,"y":3559}]},
"mark":{"type":"rule","color":"#000000","strokeWidth":2},
"encoding":{"x":{"field":"x","type":"quantitative"},"x2":{"field":"x2"},"y":{"field":"y","type":"quantitative"}}},
{"data":{"values":[{"x":0.703,"y":3559}]},
"mark":{"type":"point","shape":"triangle-left","filled":true,"color":"#000000","opacity":1,"size":45},
"encoding":{"x":{"field":"x","type":"quantitative"},"y":{"field":"y","type":"quantitative"}}},
{"data":{"values":[{"x":0.817,"y":3559}]},
"mark":{"type":"point","shape":"triangle-right","filled":true,"color":"#000000","opacity":1,"size":45},
"encoding":{"x":{"field":"x","type":"quantitative"},"y":{"field":"y","type":"quantitative"}}},
{"data":{"values":[{"label":"Sampling Time","x":0.776,"y":3960}]},
"mark":{"type":"text","font":"Lato","fontWeight":"bold","fontSize":19,"color":"#000000","align":"center","baseline":"middle"},
"encoding":{"x":{"field":"x","type":"quantitative"},"y":{"field":"y","type":"quantitative"},"text":{"field":"label","type":"nominal"}}}
]},
{"data":{"values":[{"q":0},{"q":0.024}]},
"mark":{"type":"point","opacity":0},
"encoding":{"x":{"field":"q","type":"quantitative","scale":{"domain":[0,0.024],"nice":false,"zero":false},
"axis":{"orient":"bottom","offset":36,"values":[0,0.004,0.008,0.012,0.016,0.02,0.024],"format":".3f","labelOverlap":false,"labelFlush":false,"ticks":false,"grid":false,"domain":false,"labelFont":"Lato","labelFontSize":13,"labelFontWeight":"bold","labelColor":"#000000","labelPadding":12,"labelOffset":7,"title":"Time/Nominal Ventilation Time (t*q/V )","titleFont":"Lato","titleFontSize":13,"titleFontWeight":"normal","titleColor":"#404040","titlePadding":4}}}}
],
"resolve":{"scale":{"x":"independent"},"axis":{"x":"independent"}}
}
